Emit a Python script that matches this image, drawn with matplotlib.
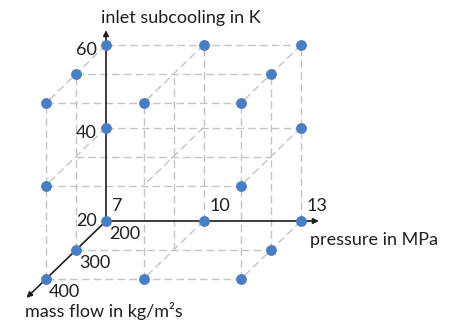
import matplotlib
matplotlib.use('Agg')
import matplotlib.pyplot as plt
import numpy as np

# ---- data -------------------------------------------------------------
pressure = [7, 10, 13]            # MPa
subcooling = [20, 40, 60]         # K
mass_flow = [200, 300, 400]       # kg/m²s

# test points (corners + edge midpoints of the parameter cube)
point_pressure = [7, 10, 13, 7, 13, 7, 10, 13,
                  7, 13, 7, 13,
                  7, 10, 13, 7, 13, 7, 10, 13]
point_subcooling = [20, 20, 20, 20, 20, 20, 20, 20,
                    40, 40, 40, 40,
                    60, 60, 60, 60, 60, 60, 60, 60]
point_mass_flow = [200, 200, 200, 300, 300, 400, 400, 400,
                   200, 200, 400, 400,
                   200, 200, 200, 300, 300, 400, 400, 400]

pressure_labels = ['7', '10', '13']
subcooling_labels = ['20', '40', '60']
mass_flow_labels = ['200', '300', '400']

# ---- oblique projection (pixel space) ---------------------------------
plt.rcParams['font.family'] = ['Lato', 'DejaVu Sans']
plt.rcParams['lines.scale_dashes'] = False

ORIGIN = (106.0, 221.0)
P_STEP = 32.5              # px per MPa
M_DX, M_DY = -0.30, 0.29   # px per kg/m²s
S_KNOTS = [20, 40, 60]
S_PIX = [0.0, 93.5, 176.0]


def sub_px(s):
    s = np.asarray(s, float)
    slope_hi = (S_PIX[2] - S_PIX[1]) / (S_KNOTS[2] - S_KNOTS[1])
    return np.where(s > S_KNOTS[-1], S_PIX[-1] + (s - S_KNOTS[-1]) * slope_hi,
                    np.interp(s, S_KNOTS, S_PIX))


def proj(p, s, m):
    p = np.asarray(p, float)
    m = np.asarray(m, float)
    x = ORIGIN[0] + (p - pressure[0]) * P_STEP + (m - mass_flow[0]) * M_DX
    y = ORIGIN[1] - sub_px(s) + (m - mass_flow[0]) * M_DY
    return x, y


fig = plt.figure(figsize=(4.5, 3.23), dpi=100)
ax = fig.add_axes([0, 0, 1, 1])
ax.set_xlim(0, 450)
ax.set_ylim(323, 0)
ax.axis('off')

grid_kw = dict(color='#c4c4c4', lw=1.0, linestyle=(0, (5.5, 3.0)), zorder=1)
p0, s0, m0 = pressure[0], subcooling[0], mass_flow[0]
for s in subcooling:
    for m in mass_flow:
        if s == s0 and m == m0:
            continue
        x, y = proj([pressure[0], pressure[-1]], [s, s], [m, m])
        ax.plot(x, y, **grid_kw)
for p in pressure:
    for m in mass_flow:
        if p == p0 and m == m0:
            continue
        x, y = proj([p, p], [subcooling[0], subcooling[-1]], [m, m])
        ax.plot(x, y, **grid_kw)
for p in pressure:
    for s in subcooling:
        if p == p0 and s == s0:
            continue
        x, y = proj([p, p], [s, s], [mass_flow[0], mass_flow[-1]])
        ax.plot(x, y, **grid_kw)

# main axes with arrows
arrow_kw = dict(arrowstyle='-|>', color='#1e1e1e', lw=1.2, mutation_scale=8,
                shrinkA=0, shrinkB=0)
origin = proj(p0, s0, m0)
ax.annotate('', xy=proj(13.55, s0, m0), xytext=origin, arrowprops=arrow_kw, zorder=2)
ax.annotate('', xy=proj(p0, 63.6, m0), xytext=origin, arrowprops=arrow_kw, zorder=2)
ax.annotate('', xy=proj(p0, s0, 465), xytext=origin, arrowprops=arrow_kw, zorder=2)

# test points
px, py = proj(point_pressure, point_subcooling, point_mass_flow)
ax.plot(px, py, 'o', color='#4a7ec2', ms=7.8, mec='none', zorder=3)

fs = 13
tc = '#1f1f1f'
for p, lab in zip(pressure, pressure_labels):
    x, y = proj(p, s0, m0)
    ax.text(x + 6, y - 15, lab, fontsize=fs, color=tc, ha='left', va='center')
for s, lab in zip(subcooling, subcooling_labels):
    x, y = proj(p0, s, m0)
    dy = 0 if s == s0 else 5
    ax.text(x - 9, y + dy, lab, fontsize=fs, color=tc, ha='right', va='center')
for m, lab in zip(mass_flow, mass_flow_labels):
    x, y = proj(p0, s0, m)
    ax.text(x + 3, y + 13, lab, fontsize=fs, color=tc, ha='left', va='center')

ax.text(101, 18, 'inlet subcooling in K', fontsize=fs, color=tc, ha='left', va='center')
ax.text(310, 240, 'pressure in MPa', fontsize=fs, color=tc, ha='left', va='center')
ax.text(25, 311, 'mass flow in kg/m²s', fontsize=fs, color=tc, ha='left', va='center')

fig.savefig('out.png', dpi=100)
